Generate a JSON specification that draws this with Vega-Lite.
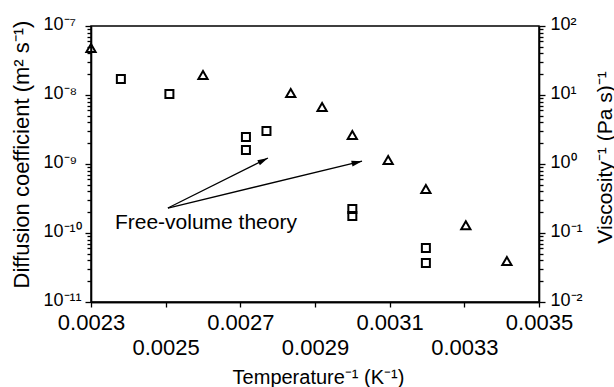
{
  "$schema": "https://vega.github.io/schema/vega-lite/v6.json",
  "width": 448,
  "height": 276,
  "autosize": {"type": "none"},
  "padding": {"left": 91, "top": 26, "right": 75, "bottom": 85},
  "background": "white",
  "config": {
    "view": {"stroke": "black", "strokeWidth": 1.5},
    "font": "Liberation Sans",
    "axis": {
      "grid": false,
      "domainColor": "black",
      "domainWidth": 1.6,
      "tickColor": "black",
      "tickWidth": 1.3,
      "labelColor": "black",
      "titleColor": "black",
      "labelFont": "Liberation Sans",
      "titleFont": "Liberation Sans",
      "titleFontWeight": "normal"
    }
  },
  "datasets": {
    "diffusion": [
      {"inv_T": 0.00238, "D": 1.71e-8},
      {"inv_T": 0.00251, "D": 1.03e-8},
      {"inv_T": 0.002715, "D": 2.46e-9},
      {"inv_T": 0.002715, "D": 1.6e-9},
      {"inv_T": 0.00277, "D": 3.0e-9},
      {"inv_T": 0.003, "D": 2.23e-10},
      {"inv_T": 0.003, "D": 1.76e-10},
      {"inv_T": 0.003197, "D": 6.06e-11},
      {"inv_T": 0.003197, "D": 3.67e-11}
    ],
    "viscosity": [
      {"inv_T": 0.0023, "inv_eta": 48},
      {"inv_T": 0.0026, "inv_eta": 19.5},
      {"inv_T": 0.002835, "inv_eta": 10.7},
      {"inv_T": 0.002919, "inv_eta": 6.7},
      {"inv_T": 0.003, "inv_eta": 2.63},
      {"inv_T": 0.003096, "inv_eta": 1.14},
      {"inv_T": 0.003197, "inv_eta": 0.434},
      {"inv_T": 0.003304, "inv_eta": 0.13},
      {"inv_T": 0.003414, "inv_eta": 0.0393}
    ],
    "arrows": [
      {"id": 1, "x0": 0.002506, "y0": 2.3e-10, "x1": 0.002774, "y1": 1.22e-9},
      {"id": 2, "x0": 0.002506, "y0": 2.3e-10, "x1": 0.003026, "y1": 1.1e-9}
    ],
    "notes": [
      {"label": "Free-volume theory", "x": 0.002364, "y": 1.4e-10}
    ]
  },
  "layer": [
    {
      "data": {"name": "diffusion"},
      "mark": {"type": "point", "shape": "square", "filled": false, "color": "black", "strokeWidth": 2, "size": 64, "opacity": 1},
      "encoding": {
        "x": {
          "field": "inv_T", "type": "quantitative",
          "scale": {"domain": [0.0023, 0.0035], "nice": false, "zero": false},
          "axis": {
            "orient": "bottom",
            "title": null,
            "values": [0.0023, 0.0027, 0.0031, 0.0035],
            "format": ".4f",
            "labelFontSize": 22,
            "labelFlush": false,
            "labelOverlap": false,
            "tickSize": 5,
            "labelPadding": 5
          }
        },
        "y": {
          "field": "D", "type": "quantitative",
          "scale": {"type": "log", "domain": [1e-11, 1e-7], "nice": false},
          "axis": {
            "orient": "left",
            "title": "Diffusion coefficient (m² s⁻¹)",
            "tickCount": 10,
            "labelExpr": "abs(log(datum.value)/LN10 - round(log(datum.value)/LN10)) < 0.01 ? ['10⁻¹¹','10⁻¹⁰','10⁻⁹','10⁻⁸','10⁻⁷'][round(log(datum.value)/LN10) + 11] : ''",
            "labelAlign": "left",
            "labelPadding": 42,
            "labelOffset": -2,
            "labelFontSize": 18,
            "labelOverlap": false,
            "labelBound": false,
            "tickSize": {"condition": {"test": "abs(log(datum.value)/LN10 - round(log(datum.value)/LN10)) < 0.01", "value": 6}, "value": 4},
            "titleFontSize": 22,
            "titleX": -70,
            "titleY": 128,
            "titleAngle": 270,
            "titleAlign": "center",
            "titleBaseline": "middle"
          }
        }
      }
    },
    {
      "data": {"name": "viscosity"},
      "mark": {"type": "point", "shape": "triangle-up", "filled": false, "color": "black", "strokeWidth": 2, "size": 85, "opacity": 1},
      "encoding": {
        "x": {
          "field": "inv_T", "type": "quantitative",
          "scale": {"domain": [0.0023, 0.0035], "nice": false, "zero": false},
          "axis": {
            "orient": "bottom",
            "title": "Temperature⁻¹ (K⁻¹)",
            "values": [0.0025, 0.0029, 0.0033],
            "format": ".4f",
            "labelFontSize": 22,
            "labelFlush": false,
            "labelOverlap": false,
            "tickSize": 5,
            "labelPadding": 30,
            "titleFontSize": 20,
            "titleX": 227,
            "titleY": 75,
            "titleAlign": "center",
            "titleBaseline": "middle"
          }
        },
        "y": {
          "field": "inv_eta", "type": "quantitative",
          "scale": {"type": "log", "domain": [0.01, 100], "nice": false},
          "axis": {
            "orient": "right",
            "title": "Viscosity⁻¹ (Pa s)⁻¹",
            "tickCount": 10,
            "labelExpr": "abs(log(datum.value)/LN10 - round(log(datum.value)/LN10)) < 0.01 ? ['10⁻²','10⁻¹','10⁰','10¹','10²'][round(log(datum.value)/LN10) + 2] : ''",
            "labelAlign": "left",
            "labelPadding": 5,
            "labelOffset": -2,
            "labelFontSize": 18,
            "labelOverlap": false,
            "labelBound": false,
            "tickSize": {"condition": {"test": "abs(log(datum.value)/LN10 - round(log(datum.value)/LN10)) < 0.01", "value": 6}, "value": 4},
            "titleFontSize": 21,
            "titleX": 66,
            "titleY": 131,
            "titleAngle": 270,
            "titleAlign": "center",
            "titleBaseline": "middle"
          }
        }
      }
    },
    {
      "data": {"name": "arrows"},
      "mark": {"type": "rule", "color": "black", "strokeWidth": 1.3},
      "encoding": {
        "x": {"field": "x0", "type": "quantitative", "scale": {"domain": [0.0023, 0.0035], "nice": false, "zero": false}, "axis": null},
        "y": {"field": "y0", "type": "quantitative", "scale": {"type": "log", "domain": [1e-11, 1e-7], "nice": false}, "axis": null},
        "x2": {"field": "x1"},
        "y2": {"field": "y1"}
      }
    },
    {
      "data": {"name": "arrows"},
      "transform": [{"filter": "datum.id == 1"}],
      "mark": {"type": "point", "shape": "M0,0L-2,-0.55L-2,0.55Z", "filled": true, "color": "black", "opacity": 1, "size": 110, "angle": 333.4, "strokeWidth": 0},
      "encoding": {
        "x": {"field": "x1", "type": "quantitative", "scale": {"domain": [0.0023, 0.0035], "nice": false, "zero": false}, "axis": null},
        "y": {"field": "y1", "type": "quantitative", "scale": {"type": "log", "domain": [1e-11, 1e-7], "nice": false}, "axis": null}
      }
    },
    {
      "data": {"name": "arrows"},
      "transform": [{"filter": "datum.id == 2"}],
      "mark": {"type": "point", "shape": "M0,0L-2,-0.55L-2,0.55Z", "filled": true, "color": "black", "opacity": 1, "size": 110, "angle": 346.4, "strokeWidth": 0},
      "encoding": {
        "x": {"field": "x1", "type": "quantitative", "scale": {"domain": [0.0023, 0.0035], "nice": false, "zero": false}, "axis": null},
        "y": {"field": "y1", "type": "quantitative", "scale": {"type": "log", "domain": [1e-11, 1e-7], "nice": false}, "axis": null}
      }
    },
    {
      "data": {"name": "notes"},
      "mark": {"type": "text", "align": "left", "baseline": "middle", "fontSize": 21, "color": "black", "font": "Liberation Sans"},
      "encoding": {
        "x": {"field": "x", "type": "quantitative", "scale": {"domain": [0.0023, 0.0035], "nice": false, "zero": false}, "axis": null},
        "y": {"field": "y", "type": "quantitative", "scale": {"type": "log", "domain": [1e-11, 1e-7], "nice": false}, "axis": null},
        "text": {"field": "label"}
      }
    }
  ],
  "resolve": {"scale": {"y": "independent"}, "axis": {"x": "independent"}}
}
